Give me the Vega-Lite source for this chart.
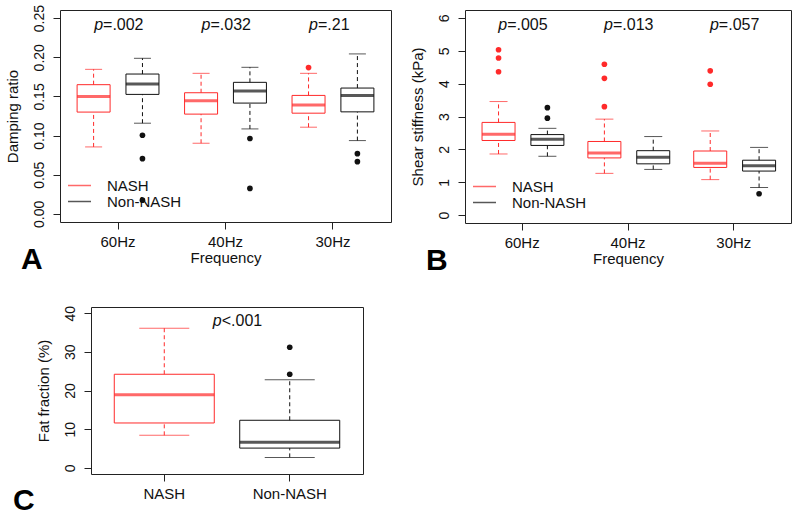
{
  "$schema": "https://vega.github.io/schema/vega-lite/v6.json",
  "padding": {"left": 3, "top": 4, "right": 0, "bottom": 0},
  "background": "white",
  "config": {
    "font": "Liberation Sans",
    "view": {"stroke": "#222", "strokeWidth": 1},
    "axis": {"domain": false, "grid": false, "tickColor": "#222", "tickSize": 7, "labelColor": "#111", "titleColor": "#111", "labelFontSize": 15, "titleFontSize": 15, "titleFontWeight": "normal", "labelPadding": 5, "labelFont": "Liberation Sans", "titleFont": "Liberation Sans", "labelOverlap": false},
    "axisY": {"labelAngle": -90, "labelAlign": "center", "labelBaseline": "bottom", "labelFontSize": 14, "titlePadding": 12, "labelPadding": 7},
    "axisX": {"labelAngle": 0, "titlePadding": 1},
    "legend": {"title": null, "orient": "bottom-left", "symbolType": "M-2,0H2", "symbolSize": 132, "symbolStrokeWidth": 1.5, "labelFontSize": 15, "labelColor": "#111", "labelFont": "Liberation Sans", "offset": 12, "rowPadding": -2, "labelOffset": 20},
    "title": {"orient": "bottom", "anchor": "start", "frame": "bounds", "fontSize": 30, "fontWeight": "bold", "font": "Liberation Sans", "color": "#000", "offset": -20}
  },
  "datasets": {
    "boxA": [
      {"Frequency": "60Hz", "Group": "NASH", "lower": 0.0855, "q1": 0.130, "median": 0.150, "q3": 0.165, "upper": 0.1846},
      {"Frequency": "60Hz", "Group": "Non-NASH", "lower": 0.1158, "q1": 0.1526, "median": 0.166, "q3": 0.1786, "upper": 0.1987},
      {"Frequency": "40Hz", "Group": "NASH", "lower": 0.0902, "q1": 0.1274, "median": 0.1444, "q3": 0.1547, "upper": 0.1795},
      {"Frequency": "40Hz", "Group": "Non-NASH", "lower": 0.1085, "q1": 0.1415, "median": 0.1568, "q3": 0.168, "upper": 0.1872},
      {"Frequency": "30Hz", "Group": "NASH", "lower": 0.1107, "q1": 0.1286, "median": 0.1389, "q3": 0.1513, "upper": 0.1795},
      {"Frequency": "30Hz", "Group": "Non-NASH", "lower": 0.0936, "q1": 0.1303, "median": 0.1513, "q3": 0.1607, "upper": 0.2043}
    ],
    "outA": [
      {"Frequency": "60Hz", "Group": "Non-NASH", "value": 0.1004},
      {"Frequency": "60Hz", "Group": "Non-NASH", "value": 0.0705},
      {"Frequency": "60Hz", "Group": "Non-NASH", "value": 0.0175},
      {"Frequency": "40Hz", "Group": "Non-NASH", "value": 0.0962},
      {"Frequency": "40Hz", "Group": "Non-NASH", "value": 0.0325},
      {"Frequency": "30Hz", "Group": "NASH", "value": 0.1868},
      {"Frequency": "30Hz", "Group": "Non-NASH", "value": 0.0769},
      {"Frequency": "30Hz", "Group": "Non-NASH", "value": 0.0667}
    ],
    "pA": [
      {"Frequency": "60Hz", "p": "=.002", "y": 0.2415},
      {"Frequency": "40Hz", "p": "=.032", "y": 0.2415},
      {"Frequency": "30Hz", "p": "=.21", "y": 0.2415}
    ],
    "boxB": [
      {"Frequency": "60Hz", "Group": "NASH", "lower": 1.86, "q1": 2.27, "median": 2.46, "q3": 2.82, "upper": 3.455},
      {"Frequency": "60Hz", "Group": "Non-NASH", "lower": 1.79, "q1": 2.12, "median": 2.31, "q3": 2.45, "upper": 2.64},
      {"Frequency": "40Hz", "Group": "NASH", "lower": 1.27, "q1": 1.74, "median": 1.89, "q3": 2.24, "upper": 2.92},
      {"Frequency": "40Hz", "Group": "Non-NASH", "lower": 1.39, "q1": 1.56, "median": 1.76, "q3": 1.96, "upper": 2.39},
      {"Frequency": "30Hz", "Group": "NASH", "lower": 1.08, "q1": 1.45, "median": 1.58, "q3": 1.95, "upper": 2.56},
      {"Frequency": "30Hz", "Group": "Non-NASH", "lower": 0.84, "q1": 1.34, "median": 1.50, "q3": 1.67, "upper": 2.06}
    ],
    "outB": [
      {"Frequency": "60Hz", "Group": "NASH", "value": 5.03},
      {"Frequency": "60Hz", "Group": "NASH", "value": 4.78},
      {"Frequency": "60Hz", "Group": "NASH", "value": 4.36},
      {"Frequency": "60Hz", "Group": "Non-NASH", "value": 3.27},
      {"Frequency": "60Hz", "Group": "Non-NASH", "value": 2.95},
      {"Frequency": "40Hz", "Group": "NASH", "value": 4.59},
      {"Frequency": "40Hz", "Group": "NASH", "value": 4.16},
      {"Frequency": "40Hz", "Group": "NASH", "value": 3.30},
      {"Frequency": "30Hz", "Group": "NASH", "value": 4.39},
      {"Frequency": "30Hz", "Group": "NASH", "value": 3.98},
      {"Frequency": "30Hz", "Group": "Non-NASH", "value": 0.65}
    ],
    "pB": [
      {"Frequency": "60Hz", "p": "=.005", "y": 5.78},
      {"Frequency": "40Hz", "p": "=.013", "y": 5.78},
      {"Frequency": "30Hz", "p": "=.057", "y": 5.78}
    ],
    "boxC": [
      {"Group": "NASH", "lower": 8.4, "q1": 11.6, "median": 18.9, "q3": 24.2, "upper": 36.1},
      {"Group": "Non-NASH", "lower": 2.7, "q1": 5.1, "median": 6.6, "q3": 12.3, "upper": 22.8}
    ],
    "outC": [
      {"Group": "Non-NASH", "value": 31.2},
      {"Group": "Non-NASH", "value": 24.2}
    ],
    "pC": [
      {"Group": "Non-NASH", "p": "<.001", "y": 38.1}
    ]
  },
  "vconcat": [
    {
      "hconcat": [
        {
          "hconcat": [
            {"width": 1, "height": 10, "view": {"stroke": null}, "data": {"values": []}, "mark": "rect", "encoding": {}},
            {
              "width": 331, "height": 212,
              "title": {"text": "A", "dx": 16},
              "encoding": {
                "x": {"field": "Frequency", "type": "nominal", "scale": {"domain": ["60Hz", "40Hz", "30Hz"], "paddingInner": 0, "paddingOuter": 0.04}, "axis": {"title": "Frequency"}},
                "color": {"field": "Group", "type": "nominal", "scale": {"domain": ["NASH", "Non-NASH"], "range": ["#ff2a2a", "#111111"]}, "legend": {"title": null}}
              },
              "layer": [
                {"data": {"name": "boxA"}, "mark": {"type": "rule", "strokeDash": [4, 3], "strokeWidth": 1},
                 "encoding": {"xOffset": {"field": "Group", "type": "nominal", "scale": {"domain": ["NASH", "Non-NASH"], "paddingInner": 0, "paddingOuter": 0.1}},
                   "y": {"field": "q3", "type": "quantitative", "scale": {"domain": [-0.0104, 0.2604], "nice": false, "zero": false}, "axis": {"title": "Damping ratio", "values": [0, 0.05, 0.1, 0.15, 0.2, 0.25], "format": ".2f", "labelOverlap": false}},
                   "y2": {"field": "upper"}}},
                {"data": {"name": "boxA"}, "mark": {"type": "rule", "strokeDash": [4, 3], "strokeWidth": 1},
                 "encoding": {"xOffset": {"field": "Group", "type": "nominal"}, "y": {"field": "lower", "type": "quantitative"}, "y2": {"field": "q1"}}},
                {"data": {"name": "boxA"}, "mark": {"type": "tick", "size": 17, "thickness": 1},
                 "encoding": {"xOffset": {"field": "Group", "type": "nominal"}, "y": {"field": "upper", "type": "quantitative"}}},
                {"data": {"name": "boxA"}, "mark": {"type": "tick", "size": 17, "thickness": 1},
                 "encoding": {"xOffset": {"field": "Group", "type": "nominal"}, "y": {"field": "lower", "type": "quantitative"}}},
                {"data": {"name": "boxA"}, "mark": {"type": "bar", "filled": false, "width": 33, "strokeWidth": 1},
                 "encoding": {"xOffset": {"field": "Group", "type": "nominal"}, "y": {"field": "q1", "type": "quantitative"}, "y2": {"field": "q3"}}},
                {"data": {"name": "boxA"}, "mark": {"type": "tick", "size": 33, "thickness": 3},
                 "encoding": {"xOffset": {"field": "Group", "type": "nominal"}, "y": {"field": "median", "type": "quantitative"}}},
                {"data": {"name": "outA"}, "mark": {"type": "point", "filled": true, "size": 32, "opacity": 1},
                 "encoding": {"xOffset": {"field": "Group", "type": "nominal"}, "y": {"field": "value", "type": "quantitative"}}},
                {"data": {"name": "pA"}, "mark": {"type": "text", "text": "p", "fontStyle": "italic", "fontSize": 16, "align": "right", "baseline": "middle", "dx": -15},
                 "encoding": {"y": {"field": "y", "type": "quantitative"}, "color": {"value": "#111"}}},
                {"data": {"name": "pA"}, "mark": {"type": "text", "fontSize": 16, "align": "left", "baseline": "middle", "dx": -15},
                 "encoding": {"y": {"field": "y", "type": "quantitative"}, "text": {"field": "p"}, "color": {"value": "#111"}}}
              ]
            }
          ],
          "spacing": 0,
          "resolve": {"legend": {"color": "independent"}}
        },
        {
          "width": 326, "height": 213,
          "title": {"text": "B", "dx": 16},
          "encoding": {
            "x": {"field": "Frequency", "type": "nominal", "scale": {"domain": ["60Hz", "40Hz", "30Hz"], "paddingInner": 0, "paddingOuter": 0.04}, "axis": {"title": "Frequency"}},
            "color": {"field": "Group", "type": "nominal", "scale": {"domain": ["NASH", "Non-NASH"], "range": ["#ff2a2a", "#111111"]}, "legend": {"title": null}}
          },
          "layer": [
            {"data": {"name": "boxB"}, "mark": {"type": "rule", "strokeDash": [4, 3], "strokeWidth": 1},
             "encoding": {"xOffset": {"field": "Group", "type": "nominal", "scale": {"domain": ["NASH", "Non-NASH"], "paddingInner": 0, "paddingOuter": 0.1}},
               "y": {"field": "q3", "type": "quantitative", "scale": {"domain": [-0.24, 6.24], "nice": false, "zero": false}, "axis": {"title": "Shear stiffness (kPa)", "values": [0, 1, 2, 3, 4, 5, 6], "tickCount": 7, "labelOverlap": false}},
               "y2": {"field": "upper"}}},
            {"data": {"name": "boxB"}, "mark": {"type": "rule", "strokeDash": [4, 3], "strokeWidth": 1},
             "encoding": {"xOffset": {"field": "Group", "type": "nominal"}, "y": {"field": "lower", "type": "quantitative", "axis": {"title": "Shear stiffness (kPa)", "values": [0, 1, 2, 3, 4, 5, 6], "tickCount": 7, "labelOverlap": false}}, "y2": {"field": "q1"}}},
            {"data": {"name": "boxB"}, "mark": {"type": "tick", "size": 18, "thickness": 1},
             "encoding": {"xOffset": {"field": "Group", "type": "nominal"}, "y": {"field": "upper", "type": "quantitative", "axis": {"title": "Shear stiffness (kPa)", "values": [0, 1, 2, 3, 4, 5, 6], "tickCount": 7, "labelOverlap": false}}}},
            {"data": {"name": "boxB"}, "mark": {"type": "tick", "size": 18, "thickness": 1},
             "encoding": {"xOffset": {"field": "Group", "type": "nominal"}, "y": {"field": "lower", "type": "quantitative", "axis": {"title": "Shear stiffness (kPa)", "values": [0, 1, 2, 3, 4, 5, 6], "tickCount": 7, "labelOverlap": false}}}},
            {"data": {"name": "boxB"}, "mark": {"type": "bar", "filled": false, "width": 33, "strokeWidth": 1},
             "encoding": {"xOffset": {"field": "Group", "type": "nominal"}, "y": {"field": "q1", "type": "quantitative", "axis": {"title": "Shear stiffness (kPa)", "values": [0, 1, 2, 3, 4, 5, 6], "tickCount": 7, "labelOverlap": false}}, "y2": {"field": "q3"}}},
            {"data": {"name": "boxB"}, "mark": {"type": "tick", "size": 33, "thickness": 3},
             "encoding": {"xOffset": {"field": "Group", "type": "nominal"}, "y": {"field": "median", "type": "quantitative", "axis": {"title": "Shear stiffness (kPa)", "values": [0, 1, 2, 3, 4, 5, 6], "tickCount": 7, "labelOverlap": false}}}},
            {"data": {"name": "outB"}, "mark": {"type": "point", "filled": true, "size": 32, "opacity": 1},
             "encoding": {"xOffset": {"field": "Group", "type": "nominal"}, "y": {"field": "value", "type": "quantitative", "axis": {"title": "Shear stiffness (kPa)", "values": [0, 1, 2, 3, 4, 5, 6], "tickCount": 7, "labelOverlap": false}}}},
            {"data": {"name": "pB"}, "mark": {"type": "text", "text": "p", "fontStyle": "italic", "fontSize": 16, "align": "right", "baseline": "middle", "dx": -15},
             "encoding": {"y": {"field": "y", "type": "quantitative", "axis": {"title": "Shear stiffness (kPa)", "values": [0, 1, 2, 3, 4, 5, 6], "tickCount": 7, "labelOverlap": false}}, "color": {"value": "#111"}}},
            {"data": {"name": "pB"}, "mark": {"type": "text", "fontSize": 16, "align": "left", "baseline": "middle", "dx": -15},
             "encoding": {"y": {"field": "y", "type": "quantitative", "axis": {"title": "Shear stiffness (kPa)", "values": [0, 1, 2, 3, 4, 5, 6], "tickCount": 7, "labelOverlap": false}}, "text": {"field": "p"}, "color": {"value": "#111"}}}
          ]
        }
      ],
      "spacing": 17,
      "resolve": {"legend": {"color": "independent"}}
    },
    {
      "hconcat": [
        {"width": 2, "height": 10, "view": {"stroke": null}, "data": {"values": []}, "mark": "rect", "encoding": {}},
        {
          "width": 272, "height": 167,
          "title": {"text": "C", "dx": -23, "offset": -15},
          "encoding": {
            "x": {"field": "Group", "type": "nominal", "scale": {"domain": ["NASH", "Non-NASH"], "paddingInner": 0, "paddingOuter": 0.084}, "axis": {"title": null}},
            "color": {"field": "Group", "type": "nominal", "scale": {"domain": ["NASH", "Non-NASH"], "range": ["#ff2a2a", "#111111"]}, "legend": null}
          },
          "layer": [
            {"data": {"name": "boxC"}, "mark": {"type": "rule", "strokeDash": [4, 3], "strokeWidth": 1},
             "encoding": {"y": {"field": "q3", "type": "quantitative", "scale": {"domain": [-1.6, 41.6], "nice": false, "zero": false}, "axis": {"title": "Fat fraction (%)", "values": [0, 10, 20, 30, 40], "labelOverlap": false}},
               "y2": {"field": "upper"}}},
            {"data": {"name": "boxC"}, "mark": {"type": "rule", "strokeDash": [4, 3], "strokeWidth": 1},
             "encoding": {"y": {"field": "lower", "type": "quantitative"}, "y2": {"field": "q1"}}},
            {"data": {"name": "boxC"}, "mark": {"type": "tick", "size": 50, "thickness": 1},
             "encoding": {"y": {"field": "upper", "type": "quantitative"}}},
            {"data": {"name": "boxC"}, "mark": {"type": "tick", "size": 50, "thickness": 1},
             "encoding": {"y": {"field": "lower", "type": "quantitative"}}},
            {"data": {"name": "boxC"}, "mark": {"type": "bar", "filled": false, "width": 100, "strokeWidth": 1},
             "encoding": {"y": {"field": "q1", "type": "quantitative"}, "y2": {"field": "q3"}}},
            {"data": {"name": "boxC"}, "mark": {"type": "tick", "size": 100, "thickness": 3},
             "encoding": {"y": {"field": "median", "type": "quantitative"}}},
            {"data": {"name": "outC"}, "mark": {"type": "point", "filled": true, "size": 32, "opacity": 1},
             "encoding": {"y": {"field": "value", "type": "quantitative"}}},
            {"data": {"name": "pC"}, "mark": {"type": "text", "text": "p", "fontStyle": "italic", "fontSize": 16, "align": "right", "baseline": "middle", "dx": -68},
             "encoding": {"y": {"field": "y", "type": "quantitative"}, "color": {"value": "#111"}}},
            {"data": {"name": "pC"}, "mark": {"type": "text", "fontSize": 16, "align": "left", "baseline": "middle", "dx": -68},
             "encoding": {"y": {"field": "y", "type": "quantitative"}, "text": {"field": "p"}, "color": {"value": "#111"}}}
          ]
        }
      ],
      "spacing": 7
    }
  ],
  "spacing": 27,
  "resolve": {"legend": {"color": "independent"}}
}
